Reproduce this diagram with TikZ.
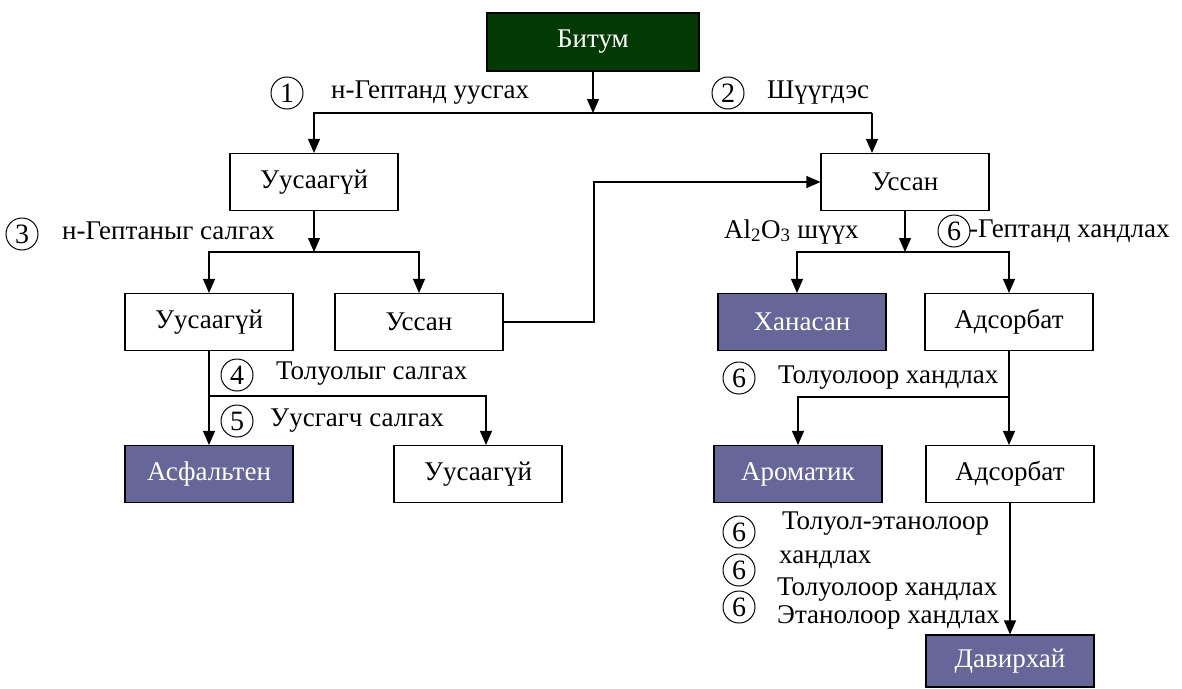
\documentclass[tikz,border=0pt]{standalone}
\usepackage{fontspec}
\setmainfont{Liberation Serif}
\usetikzlibrary{arrows.meta}
\definecolor{bitgreen}{HTML}{033A03}
\definecolor{purp}{HTML}{666699}
\begin{document}
\begin{tikzpicture}[x=1pt,y=-1pt,
  box/.style={draw, line width=1.1pt, minimum width=168pt, minimum height=57pt, inner sep=0pt, font=\fontsize{27}{31}\selectfont},
  darkbox/.style={box, fill=bitgreen, text=white},
  filledbox/.style={box, fill=purp, text=white},
  lbl/.style={anchor=west, inner sep=0pt, text height=18pt, text depth=6pt, font=\fontsize{27}{30}\selectfont},
  num/.style={draw, circle, line width=1pt, minimum size=32pt, inner sep=0pt, font=\fontsize{28}{30}\selectfont},
  arr/.style={line width=1.1pt, -{Triangle[length=14pt,width=12pt]}},
  ln/.style={line width=1.1pt}]
\useasboundingbox (0,0) rectangle (1182,688);

% boxes
\node[darkbox, minimum width=212pt, minimum height=58pt] (bit) at (593,42) {Битум};
\node[box] (u1) at (314,182) {Уусаагүй};
\node[box] (us1) at (905,182) {Уссан};
\node[box] (u2) at (209,322) {Уусаагүй};
\node[box] (us2) at (419,322) {Уссан};
\node[filledbox] (han) at (802,322) {Ханасан};
\node[box] (ads1) at (1009,322) {Адсорбат};
\node[filledbox] (asf) at (209,474) {Асфальтен};
\node[box] (u3) at (478,474) {Уусаагүй};
\node[filledbox] (aro) at (798,474) {Ароматик};
\node[box] (ads2) at (1010,474) {Адсорбат};
\node[filledbox, minimum height=52pt] (dav) at (1010,661) {Давирхай};

% connectors
\coordinate (j1) at (593,113);
\coordinate (r1) at (872,113);
\draw[arr] (bit.south) -- (j1);
\draw[arr] (j1) -| (u1.north);
\draw[ln] (j1) -- (r1);
\draw[arr] (r1) -- (r1 |- us1.north);

\coordinate (j2) at (314,252);
\draw[arr] (u1.south) -- (j2);
\draw[arr] (j2) -| (u2.north);
\draw[arr] (j2) -| (us2.north);

\coordinate (k2) at (594,182);
\draw[arr] (us2.east) -| (k2) -- (us1.west);

\coordinate (j3) at (905,252);
\draw[arr] (us1.south) -- (j3);
\draw[arr] (j3) -| ([xshift=-5pt]han.north);
\draw[arr] (j3) -| (ads1.north);

\coordinate (j4) at (1009,397);
\draw[ln] (ads1.south) -- (j4);
\draw[arr] (j4) -| (aro.north);
\draw[arr] (j4) -- (j4 |- ads2.north);
\draw[arr] (ads2.south) -- (dav.north);

\coordinate (j5) at (209,396);
\draw[ln] (u2.south) -- (j5);
\draw[arr] (j5) -- (asf.north);
\draw[arr] (j5) -| ([xshift=8pt]u3.north);

% labels
\node[num] (c1) at (287,93) {1};
\node[lbl] (t1) at (331,92) {н-Гептанд уусгах};
\node[num] (c2) at (728,93) {2};
\node[lbl] (t2) at (767,92) {Шүүгдэс};
\node[num] (c3) at (22,234) {3};
\node[lbl] (t3) at (62,233) {н-Гептаныг салгах};
\node[num] (c4) at (237,375) {4};
\node[lbl] (t4) at (276,373) {Толуолыг салгах};
\node[num] (c5) at (237,421) {5};
\node[lbl] (t5) at (270,420) {Уусгагч салгах};
\node[lbl] (t6) at (724,232) {Al\textsubscript{2}O\textsubscript{3} шүүх};
\node[num] (c6) at (954,231) {6};
\node[lbl] (t7) at (969,231) {-Гептанд хандлах};
\node[num] (c7) at (739,378) {6};
\node[lbl] (t8) at (778,377) {Толуолоор хандлах};
\node[num] (c8) at (739,532) {6};
\node[lbl] (t9) at (782,523) {Толуол-этанолоор};
\node[lbl] (t10) at (779,557) {хандлах};
\node[num] (c9) at (739,570) {6};
\node[lbl] (t11) at (777,589) {Толуолоор хандлах};
\node[num] (c10) at (739,607) {6};
\node[lbl] (t12) at (777,617) {Этанолоор хандлах};
\end{tikzpicture}
\end{document}
